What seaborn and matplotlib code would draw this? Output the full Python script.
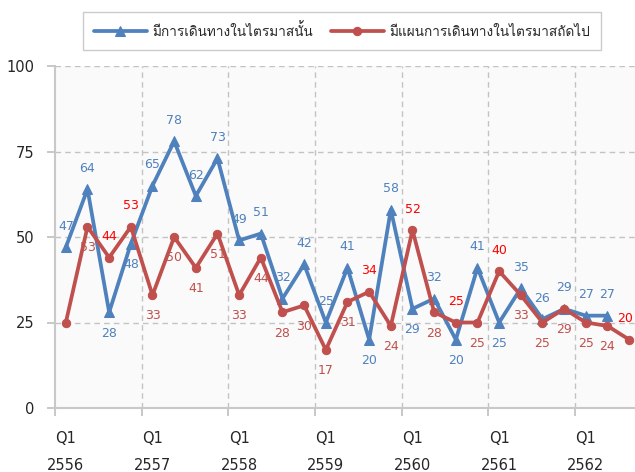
import matplotlib
matplotlib.use("Agg")
import matplotlib.pyplot as plt
from matplotlib import font_manager, ft2font
import seaborn as sns
import pandas as pd
import numpy as np

# ---------------- data ----------------
years = ["2556", "2557", "2558", "2559", "2560", "2561", "2562"]
quarters_per_year = 4

blue_name = "มีการเดินทางในไตรมาสนั้น"
red_name = "มีแผนการเดินทางในไตรมาสถัดไป"

blue_vals = [47, 64, 28, 48, 65, 78, 62, 73, 49, 51, 32, 42, 25, 41, 20, 58,
             29, 32, 20, 41, 25, 35, 26, 29, 27, 27]
red_vals = [25, 53, 44, 53, 33, 50, 41, 51, 33, 44, 28, 30, 17, 31, 34, 24,
            52, 28, 25, 25, 40, 33, 25, 29, 25, 24, 20]

# label placement: 1 above, -1 below, 0 none
blue_pos = [1, 1, -1, -1, 1, 1, 1, 1, 1, 1, 1, 1, 1, 1, -1, 1,
            -1, 1, -1, 1, -1, 1, 1, 1, 1, 1]
red_pos = [0, -1, 1, 1, -1, -1, -1, -1, -1, -1, -1, -1, -1, -1, 1, -1,
           1, -1, 1, -1, 1, -1, -1, -1, -1, -1, 1]
# highlighted (bright red) red labels
red_hi = [False, False, True, True, False, False, False, False, False, False,
          False, False, False, False, True, False, True, False, True, False,
          True, False, False, False, False, False, True]

y_ticks = [0, 25, 50, 75, 100]

# ---------------- fonts ----------------
sns.set_style("white")

def find_thai_font():
    for f in font_manager.fontManager.ttflist:
        try:
            ft = ft2font.FT2Font(f.fname)
            if 0x0E21 in ft.get_charmap():
                return f.name
        except Exception:
            pass
    return None

thai = find_thai_font()
families = ["DejaVu Sans"]
if thai:
    families = ["DejaVu Sans", thai]
plt.rcParams["font.family"] = families
legend_families = ([thai, "DejaVu Sans"] if thai else ["DejaVu Sans"])

BLUE = "#4F81BD"
RED = "#C0504D"
BRIGHT = "#FF0000"
GRID = "#C3C3C3"

df_blue = pd.DataFrame({"idx": np.arange(len(blue_vals)), "val": blue_vals})
df_red = pd.DataFrame({"idx": np.arange(len(red_vals)), "val": red_vals})

fig = plt.figure(figsize=(6.35, 4.72), dpi=100)
ax = fig.add_axes([55 / 635, 64 / 472, 580 / 635, 342 / 472])
ax.set_facecolor("#FAFAFA")

sns.lineplot(data=df_blue, x="idx", y="val", ax=ax, color=BLUE, linewidth=2.7,
             marker="^", markersize=6.5, markeredgecolor=BLUE,
             label=blue_name, zorder=3)
sns.lineplot(data=df_red, x="idx", y="val", ax=ax, color=RED, linewidth=2.7,
             marker="o", markersize=6, markeredgecolor=RED,
             label=red_name, zorder=4)

handles, labels = ax.get_legend_handles_labels()
if ax.get_legend() is not None:
    ax.get_legend().remove()

# data labels
for i, (v, p) in enumerate(zip(blue_vals, blue_pos)):
    if p == 0:
        continue
    ax.annotate(str(v), (i, v), xytext=(0, 15 * p), textcoords="offset points",
                ha="center", va="center", fontsize=9, color=BLUE, zorder=6)
last = len(red_vals) - 1
for i, (v, p, h) in enumerate(zip(red_vals, red_pos, red_hi)):
    if p == 0:
        continue
    dx = -3 if i == last else 0
    ax.annotate(str(v), (i, v), xytext=(dx, 15 * p), textcoords="offset points",
                ha="center", va="center", fontsize=9,
                color=BRIGHT if h else RED, zorder=6)

# axes limits
ax.set_xlim(-0.5, 26.27)
ax.set_ylim(0, 100)

# grid
for yv in y_ticks[1:]:
    ax.axhline(yv, color=GRID, lw=1.0, ls=(0, (4, 3)), zorder=1)
boundaries = [-0.5 + quarters_per_year * k for k in range(len(years))]
for xb in boundaries[1:]:
    ax.axvline(xb, color=GRID, lw=1.0, ls=(0, (4, 3)), zorder=1)

# ticks
ax.set_xticks(boundaries)
ax.set_xticklabels([""] * len(boundaries))
ax.set_xticks([quarters_per_year * k for k in range(len(years))], minor=True)
ax.set_xticklabels([f"Q1\n{y}" for y in years], minor=True, fontsize=10.5,
                   linespacing=2.0)
ax.tick_params(axis="x", which="major", length=6, color="#BFBFBF", width=1.2,
               direction="out", bottom=True)
ax.tick_params(axis="x", which="minor", length=0, pad=16.5, bottom=True)

ax.set_yticks(y_ticks)
ax.set_yticklabels([str(v) for v in y_ticks], fontsize=10.5)
ax.tick_params(axis="y", length=6, color="#BFBFBF", width=1.2, pad=9, left=True)

ax.set_xlabel("")
ax.set_ylabel("")

for s in ["top", "right"]:
    ax.spines[s].set_visible(False)
for s in ["left", "bottom"]:
    ax.spines[s].set_color("#C8C8C8")
    ax.spines[s].set_linewidth(1.5)

# legend
leg = fig.legend(handles, labels, loc="center",
                 bbox_to_anchor=(342 / 635, 1 - 31 / 472),
                 ncol=2, frameon=True, fancybox=False, numpoints=1,
                 edgecolor="#BFBFBF", handlelength=3.9, handletextpad=0.4,
                 columnspacing=1.3, borderpad=0.8, borderaxespad=0,
                 prop={"family": legend_families, "size": 9.8})
leg.get_frame().set_linewidth(1.0)

fig.savefig("out.png", dpi=100)
